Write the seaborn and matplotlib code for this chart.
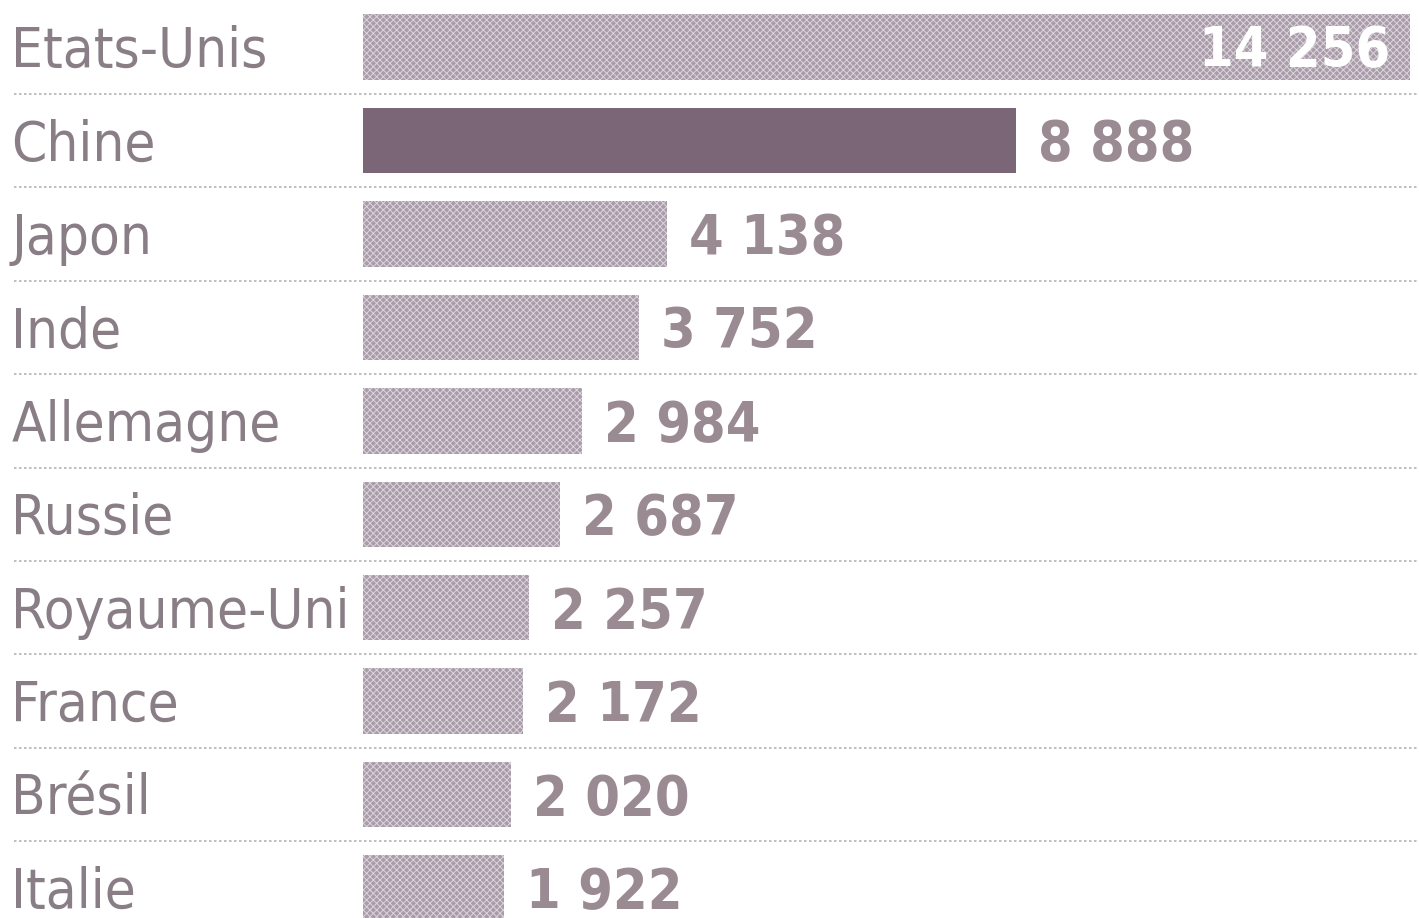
import matplotlib
matplotlib.use("Agg")
import matplotlib.pyplot as plt
import matplotlib.transforms as mtransforms
import seaborn as sns
import pandas as pd

countries = ["Etats-Unis", "Chine", "Japon", "Inde", "Allemagne", "Russie",
             "Royaume-Uni", "France", "Brésil", "Italie"]
values = [14256, 8888, 4138, 3752, 2984, 2687, 2257, 2172, 2020, 1922]
value_labels = ["14 256", "8 888", "4 138", "3 752", "2 984", "2 687",
                "2 257", "2 172", "2 020", "1 922"]

bar_color = "#a99ca9"
china_color = "#7a6676"
text_color = "#8a7e86"
value_color = "#9a8a92"

sns.set_theme(style="white")
plt.rcParams["hatch.linewidth"] = 0.7

fig = plt.figure(figsize=(14.19, 9.18), dpi=100)
ax = fig.add_axes([0, 0, 1, 1])

df = pd.DataFrame({"country": countries, "value": values})
palette = {c: (china_color if c == "Chine" else bar_color) for c in countries}
sns.barplot(data=df, x="value", y="country", hue="country", palette=palette,
            orient="h", width=0.70, legend=False, ax=ax, saturation=1,
            linewidth=0)

for i, p in enumerate(ax.patches):
    if countries[i] != "Chine":
        p.set_hatch("xxxxx")
        p.set_edgecolor("#dcd4dc")
    else:
        p.set_edgecolor(china_color)
    p.set_linewidth(0)

ax.set_xlim(-4943, 14379)
ax.set_ylim(9.32, -0.503)
ax.axis("off")

fam = ["DejaVu Sans"]
down = mtransforms.ScaledTranslation(0, -0.05, fig.dpi_scale_trans)
trans = mtransforms.blended_transform_factory(ax.transAxes, ax.transData)
for i, c in enumerate(countries):
    ax.text(0.008, i, c, transform=trans + down, ha="left", va="center",
            fontsize=40.5, color=text_color, family=fam, fontstretch="condensed")

offset = mtransforms.ScaledTranslation(0.22, -0.05, fig.dpi_scale_trans)
for i, (v, lab) in enumerate(zip(values, value_labels)):
    if i == 0:
        ax.text(v, i, lab, ha="right", va="center", fontsize=40,
                fontweight="bold", color="white", family=fam, fontstretch="condensed",
                transform=ax.transData + mtransforms.ScaledTranslation(-0.2, -0.04, fig.dpi_scale_trans))
    else:
        ax.text(v, i, lab, ha="left", va="center", fontsize=40,
                fontweight="bold", color=value_color, family=fam, fontstretch="condensed",
                transform=ax.transData + offset)

for i in range(len(countries) - 1):
    ax.plot([0.01, 1.0], [i + 0.5, i + 0.5], transform=trans,
            color="#b8b0b6", linestyle=(0, (1.5, 1.5)), linewidth=1.2)

fig.savefig("out.png", dpi=100, facecolor="white")
